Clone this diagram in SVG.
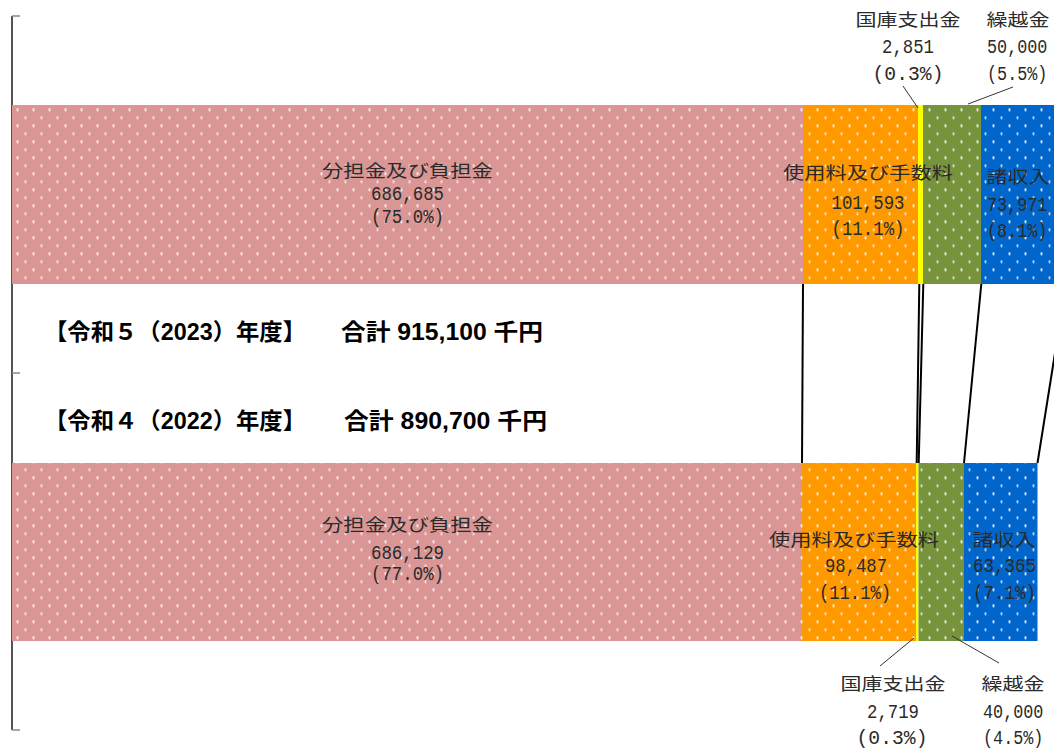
<svg xmlns="http://www.w3.org/2000/svg" width="1054" height="751" viewBox="0 0 1054 751">
  <style>
    .lbl { font-family: "Noto Sans CJK JP", sans-serif; font-size: 17px; fill: #2a2a2a; }
    .num { font-family: "Liberation Mono", "Noto Sans CJK JP", monospace; font-size: 21px; fill: #2a2a2a; }
    .ttl { font-family: "Liberation Sans", "Noto Sans CJK JP", sans-serif; font-size: 23px; font-weight: bold; fill: #000; }
    .conn { stroke: #000; stroke-width: 2; fill: none; }
    .lead { stroke: #333; stroke-width: 1; fill: none; }
    .axis { stroke: #1a1a1a; stroke-width: 1.5; fill: none; }
    .tick { stroke: #888; stroke-width: 1.5; fill: none; }
  </style>
  <defs>
    <pattern id="dots" patternUnits="userSpaceOnUse" x="0" y="0" width="16" height="16">
      <rect x="0.6" y="12.3" width="1.8" height="3" fill="#fff" fill-opacity="0.85"/>
      <rect x="8.6" y="4.3" width="1.8" height="3" fill="#fff" fill-opacity="0.7"/>
    </pattern>
  </defs>
  <rect width="1054" height="751" fill="#fff"/>

  <g id="axis">
    <line class="axis" x1="12" y1="16" x2="12" y2="730"/>
    <line class="tick" x1="12" y1="16" x2="20" y2="16"/>
    <line class="tick" x1="12" y1="373" x2="20" y2="373"/>
    <line class="tick" x1="12" y1="730" x2="20" y2="730"/>
  </g>

  <!-- 2023 bar -->
  <g id="r5-buntan">
    <rect x="12" y="105" width="791" height="179" fill="#D99694"/>
    <rect x="12" y="105" width="791" height="179" fill="url(#dots)"/>
    <text class="lbl" x="322" y="176.5" textLength="171" lengthAdjust="spacingAndGlyphs">分担金及び負担金</text>
    <text class="num" x="371" y="200" textLength="73" lengthAdjust="spacingAndGlyphs">686,685</text>
    <text class="num" x="371" y="223" textLength="73" lengthAdjust="spacingAndGlyphs">(75.0%)</text>
  </g>
  <g id="r5-shiyoryo">
    <rect x="803" y="105" width="115" height="179" fill="#FF9900"/>
    <rect x="803" y="105" width="115" height="179" fill="url(#dots)"/>
  </g>
  <g id="r5-kokko">
    <rect x="918" y="105" width="5" height="179" fill="#FFFF00"/>
  </g>
  <g id="r5-kurikoshi">
    <rect x="923" y="105" width="58" height="179" fill="#77933C"/>
    <rect x="923" y="105" width="58" height="179" fill="url(#dots)"/>
  </g>
  <g id="r5-shoshunyu">
    <rect x="981" y="105" width="85" height="179" fill="#0066CC"/>
    <rect x="981" y="105" width="85" height="179" fill="url(#dots)"/>
  </g>
  <g id="r5-labels">
    <text class="lbl" x="783" y="178.5" textLength="170" lengthAdjust="spacingAndGlyphs">使用料及び手数料</text>
    <text class="num" x="831.5" y="208.5" textLength="73" lengthAdjust="spacingAndGlyphs">101,593</text>
    <text class="num" x="831.5" y="235" textLength="73" lengthAdjust="spacingAndGlyphs">(11.1%)</text>
    <text class="lbl" x="986.5" y="183" textLength="63" lengthAdjust="spacingAndGlyphs">諸収入</text>
    <text class="num" transform="translate(987,211) scale(0.8,1)">73,971</text>
    <text class="num" transform="translate(987,237) scale(0.8,1)">(8.1%)</text>
    <text class="lbl" x="855.5" y="25.5" textLength="105" lengthAdjust="spacingAndGlyphs">国庫支出金</text>
    <text class="num" x="882" y="53" textLength="52" lengthAdjust="spacingAndGlyphs">2,851</text>
    <text class="num" x="872.5" y="80" textLength="71" lengthAdjust="spacingAndGlyphs">(0.3%)</text>
    <text class="lbl" x="986.5" y="25.5" textLength="63" lengthAdjust="spacingAndGlyphs">繰越金</text>
    <text class="num" transform="translate(987,53) scale(0.8,1)">50,000</text>
    <text class="num" transform="translate(987,80) scale(0.8,1)">(5.5%)</text>
  </g>

  <!-- titles -->
  <g id="title-r5">
    <text class="ttl" x="44" y="340" textLength="262" lengthAdjust="spacingAndGlyphs">【令和５（2023）年度】</text>
    <text class="ttl" x="341" y="340" textLength="202" lengthAdjust="spacingAndGlyphs">合計 915,100 千円</text>
  </g>
  <g id="title-r4">
    <text class="ttl" x="44" y="428.5" textLength="262" lengthAdjust="spacingAndGlyphs">【令和４（2022）年度】</text>
    <text class="ttl" x="344" y="428.5" textLength="203" lengthAdjust="spacingAndGlyphs">合計 890,700 千円</text>
  </g>

  <!-- 2022 bar -->
  <g id="r4-buntan">
    <rect x="12" y="463" width="790" height="178" fill="#D99694"/>
    <rect x="12" y="463" width="790" height="178" fill="url(#dots)"/>
    <text class="lbl" x="322" y="530.5" textLength="171" lengthAdjust="spacingAndGlyphs">分担金及び負担金</text>
    <text class="num" x="371" y="559" textLength="73" lengthAdjust="spacingAndGlyphs">686,129</text>
    <text class="num" x="371" y="580" textLength="73" lengthAdjust="spacingAndGlyphs">(77.0%)</text>
  </g>
  <g id="r4-shiyoryo">
    <rect x="802" y="463" width="114" height="178" fill="#FF9900"/>
    <rect x="802" y="463" width="114" height="178" fill="url(#dots)"/>
  </g>
  <g id="r4-kokko">
    <rect x="916" y="463" width="2.5" height="178" fill="#FFFF00"/>
  </g>
  <g id="r4-kurikoshi">
    <rect x="918.5" y="463" width="45.5" height="178" fill="#77933C"/>
    <rect x="918.5" y="463" width="45.5" height="178" fill="url(#dots)"/>
  </g>
  <g id="r4-shoshunyu">
    <rect x="964" y="463" width="73.5" height="178" fill="#0066CC"/>
    <rect x="964" y="463" width="73.5" height="178" fill="url(#dots)"/>
  </g>
  <g id="r4-labels">
    <text class="lbl" x="769" y="545.5" textLength="170" lengthAdjust="spacingAndGlyphs">使用料及び手数料</text>
    <text class="num" x="825" y="572" textLength="62" lengthAdjust="spacingAndGlyphs">98,487</text>
    <text class="num" x="819" y="599" textLength="72" lengthAdjust="spacingAndGlyphs">(11.1%)</text>
    <text class="lbl" x="972.5" y="545.5" textLength="63" lengthAdjust="spacingAndGlyphs">諸収入</text>
    <text class="num" x="973" y="572" textLength="63" lengthAdjust="spacingAndGlyphs">63,365</text>
    <text class="num" x="973" y="599" textLength="63" lengthAdjust="spacingAndGlyphs">(7.1%)</text>
    <text class="lbl" x="840.5" y="689.5" textLength="105" lengthAdjust="spacingAndGlyphs">国庫支出金</text>
    <text class="num" x="867" y="718" textLength="52" lengthAdjust="spacingAndGlyphs">2,719</text>
    <text class="num" x="856.5" y="744" textLength="71" lengthAdjust="spacingAndGlyphs">(0.3%)</text>
    <text class="lbl" x="981.5" y="689.5" textLength="63" lengthAdjust="spacingAndGlyphs">繰越金</text>
    <text class="num" transform="translate(983,718) scale(0.8,1)">40,000</text>
    <text class="num" transform="translate(983,744) scale(0.8,1)">(4.5%)</text>
  </g>

  <g id="connectors">
    <line class="conn" x1="803" y1="284" x2="802" y2="463"/>
    <line class="conn" x1="919.3" y1="284" x2="916.7" y2="463"/>
    <line class="conn" x1="923.3" y1="284" x2="918.7" y2="463"/>
    <line class="conn" x1="981.3" y1="284" x2="964" y2="463"/>
    <line class="conn" x1="1066" y1="284" x2="1037.5" y2="463"/>
    <line class="lead" x1="903" y1="86" x2="918" y2="108"/>
    <line class="lead" x1="1013" y1="87" x2="968" y2="104"/>
    <line class="lead" x1="914" y1="638" x2="880" y2="666"/>
    <line class="lead" x1="952" y1="636" x2="999" y2="663"/>
  </g>
</svg>
